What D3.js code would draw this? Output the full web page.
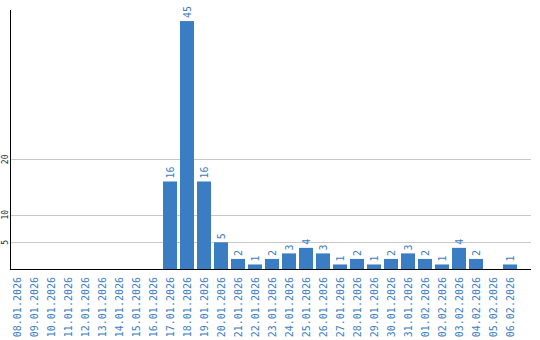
<!DOCTYPE html>
<html>
<head>
<meta charset="utf-8">
<script src="https://cdn.jsdelivr.net/npm/d3@7"></script>
<style>
    body { margin: 0; background: #fff; }
    svg { display: block; }
</style>
</head>
<body>
<div id="chart"></div>
<script>
// data
const dates = [
    '08.01.2026', '09.01.2026', '10.01.2026', '11.01.2026', '12.01.2026',
    '13.01.2026', '14.01.2026', '15.01.2026', '16.01.2026', '17.01.2026',
    '18.01.2026', '19.01.2026', '20.01.2026', '21.01.2026', '22.01.2026',
    '23.01.2026', '24.01.2026', '25.01.2026', '26.01.2026', '27.01.2026',
    '28.01.2026', '29.01.2026', '30.01.2026', '31.01.2026', '01.02.2026',
    '02.02.2026', '03.02.2026', '04.02.2026', '05.02.2026', '06.02.2026',
];
const counts = [
    0, 0, 0, 0, 0, 0, 0, 0, 0, 16,
    45, 16, 5, 2, 1, 2, 3, 4, 3, 1,
    2, 1, 2, 3, 2, 1, 4, 2, 0, 1,
];
const yTicks = [5, 10, 20];

const width = 540;
const height = 340;
const blue = '#3a7dc3';
const mono = '"DejaVu Sans Mono", monospace';

const svg = d3.select('#chart').append('svg')
    .attr('width', width)
    .attr('height', height);

const x = d3.scaleBand()
    .domain(dates)
    .range([8.5, 518.5])
    .paddingInner(3 / 17)
    .paddingOuter(1.5 / 17);

const y = d3.scaleLinear()
    .domain([0, 47])
    .range([270, 10]);

// gridlines
svg.append('g')
    .selectAll('line')
    .data(yTicks)
    .join('line')
    .attr('x1', 11)
    .attr('x2', 531)
    .attr('y1', (d) => Math.round(y(d)) + 0.5)
    .attr('y2', (d) => Math.round(y(d)) + 0.5)
    .attr('stroke', '#c8c8c8');

// y tick labels, rotated
svg.append('g')
    .selectAll('text')
    .data(yTicks)
    .join('text')
    .attr('transform', (d) => `translate(8,${y(d)}) rotate(-90)`)
    .attr('text-anchor', 'middle')
    .attr('font-family', mono)
    .attr('font-size', 8)
    .attr('fill', '#222')
    .text((d) => d);

const rows = dates.map((d, i) => ({ key: d, value: counts[i] }));

// bars
svg.append('g')
    .selectAll('rect')
    .data(rows.filter((d) => d.value > 0))
    .join('rect')
    .attr('x', (d) => x(d.key))
    .attr('width', x.bandwidth())
    .attr('y', (d) => y(d.value))
    .attr('height', (d) => y(0) - y(d.value))
    .attr('fill', blue);

// value labels
svg.append('g')
    .selectAll('text')
    .data(rows.filter((d) => d.value > 0))
    .join('text')
    .attr('transform', (d) => `translate(${x(d.key) + x.bandwidth() / 2 + 4},${y(d.value) - 3}) rotate(-90)`)
    .attr('font-family', mono)
    .attr('font-size', 10)
    .attr('fill', blue)
    .text((d) => d.value);

// axes lines
svg.append('line')
    .attr('x1', 10.5).attr('x2', 10.5)
    .attr('y1', 10).attr('y2', 270)
    .attr('stroke', '#000');
svg.append('line')
    .attr('x1', 10).attr('x2', 531)
    .attr('y1', 269.5).attr('y2', 269.5)
    .attr('stroke', '#000');

// x labels, rotated
svg.append('g')
    .selectAll('text')
    .data(dates)
    .join('text')
    .attr('transform', (d) => `translate(${x(d) + x.bandwidth() / 2 + 4},277) rotate(-90)`)
    .attr('text-anchor', 'end')
    .attr('font-family', mono)
    .attr('font-size', 10)
    .attr('fill', blue)
    .text((d) => d);
</script>
</body>
</html>
